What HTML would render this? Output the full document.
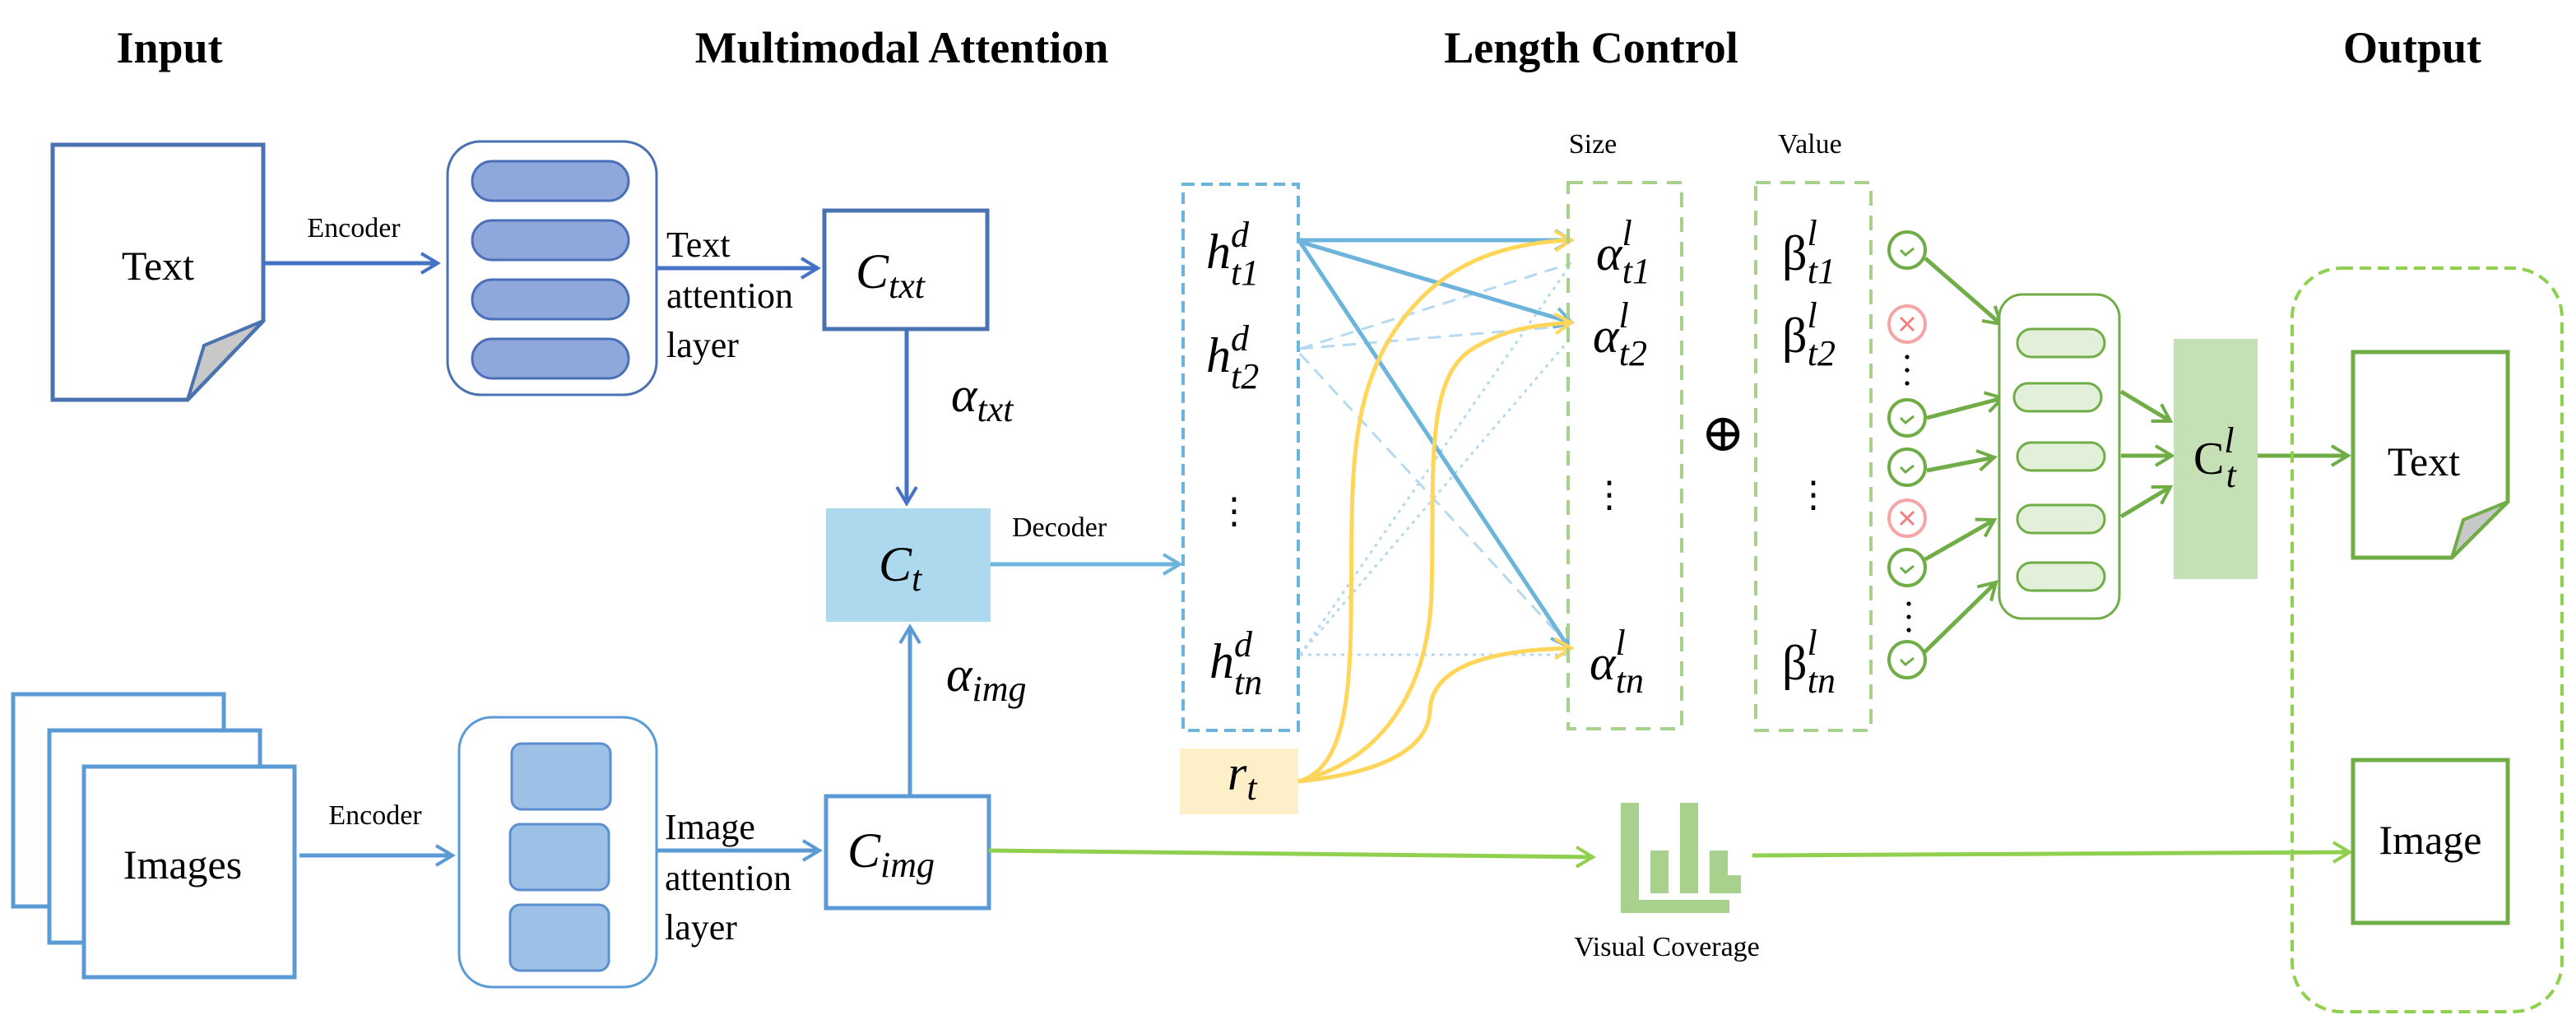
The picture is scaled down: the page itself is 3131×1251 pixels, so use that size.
<!DOCTYPE html>
<html><head><meta charset="utf-8"><style>
html,body{margin:0;padding:0;background:#fff;overflow:hidden}
svg{display:block}
svg text{font-family:"Liberation Serif","DejaVu Serif",serif;fill:#000}
.t{font-weight:bold;font-size:27px}
.m{font-style:italic;font-size:30px}
.sub{font-size:22px}
.s{font-size:17px}
.l{font-size:25px}
.a{font-size:22px}
</style></head><body>
<svg width="3131" height="1251" viewBox="0 0 1565.5 625.5" xmlns="http://www.w3.org/2000/svg" font-family="Liberation Serif, serif">
<defs>
<marker id="ab" markerWidth="14" markerHeight="14" refX="11" refY="7" orient="auto" markerUnits="userSpaceOnUse"><path d="M1,1 L11,7 L1,13" fill="none" stroke="#4472c4" stroke-width="2"/></marker>
<marker id="al" markerWidth="14" markerHeight="14" refX="11" refY="7" orient="auto" markerUnits="userSpaceOnUse"><path d="M1,1 L11,7 L1,13" fill="none" stroke="#5b9bd5" stroke-width="2"/></marker>
<marker id="ac" markerWidth="14" markerHeight="14" refX="11" refY="7" orient="auto" markerUnits="userSpaceOnUse"><path d="M1,1 L11,7 L1,13" fill="none" stroke="#6cb4dc" stroke-width="2"/></marker>
<marker id="ay" markerWidth="14" markerHeight="14" refX="11" refY="7" orient="auto" markerUnits="userSpaceOnUse"><path d="M1,1 L11,7 L1,13" fill="none" stroke="#ffd55a" stroke-width="2"/></marker>
<marker id="ag" markerWidth="14" markerHeight="14" refX="11" refY="7" orient="auto" markerUnits="userSpaceOnUse"><path d="M1,1 L11,7 L1,13" fill="none" stroke="#70ad47" stroke-width="2"/></marker>
<marker id="alg" markerWidth="14" markerHeight="14" refX="11" refY="7" orient="auto" markerUnits="userSpaceOnUse"><path d="M1,1 L11,7 L1,13" fill="none" stroke="#8fd14f" stroke-width="2"/></marker>
</defs>

<text class="t" x="103" y="38" text-anchor="middle">Input</text>
<text class="t" x="548" y="38" text-anchor="middle">Multimodal Attention</text>
<text class="t" x="967" y="38" text-anchor="middle">Length Control</text>
<text class="t" x="1466" y="38" text-anchor="middle">Output</text>

<path d="M32,88 H160 V195 L114,243 H32 Z" fill="#fff" stroke="#4a72b0" stroke-width="2.5"/>
<path d="M160,195 L124,210 L114,243 Z" fill="#c8c8c8" stroke="#4a72b0" stroke-width="2"/>
<text class="l" x="96" y="170" text-anchor="middle">Text</text>
<text class="s" x="215" y="144" text-anchor="middle">Encoder</text>
<line x1="160" y1="160" x2="266" y2="160" stroke="#4472c4" stroke-width="2.5" marker-end="url(#ab)"/>

<rect x="272" y="86" width="127" height="154" rx="20" fill="#fff" stroke="#4a72b0" stroke-width="1.5"/>
<g fill="#8fa8dc" stroke="#4a6fb8" stroke-width="1.5">
<rect x="287" y="98" width="95" height="24" rx="12"/>
<rect x="287" y="134" width="95" height="24" rx="12"/>
<rect x="287" y="170" width="95" height="24" rx="12"/>
<rect x="287" y="206" width="95" height="24" rx="12"/>
</g>
<text class="a" x="405" y="156">Text</text>
<text class="a" x="405" y="187">attention</text>
<text class="a" x="405" y="217">layer</text>
<line x1="399" y1="163" x2="497" y2="163" stroke="#4472c4" stroke-width="2.5" marker-end="url(#ab)"/>

<rect x="501" y="128" width="99" height="72" fill="#fff" stroke="#4a72b0" stroke-width="2.5"/>
<text class="m" x="520" y="175">C<tspan class="sub" dy="6">txt</tspan></text>
<line x1="551" y1="200" x2="551" y2="306" stroke="#4472c4" stroke-width="2.5" marker-end="url(#ab)"/>
<text class="m" x="578" y="250">α<tspan class="sub" dy="6">txt</tspan></text>

<rect x="502" y="309" width="100" height="69" fill="#acd9ee"/>
<text class="m" x="534" y="353">C<tspan class="sub" dy="6">t</tspan></text>
<text class="s" x="615" y="326" font-size="20">Decoder</text>
<line x1="602" y1="343" x2="717" y2="343" stroke="#6cb4dc" stroke-width="2.5" marker-end="url(#ac)"/>

<rect x="8" y="422" width="128" height="129" fill="#fff" stroke="#5b9bd5" stroke-width="2.5"/>
<rect x="30" y="444" width="128" height="129" fill="#fff" stroke="#5b9bd5" stroke-width="2.5"/>
<rect x="51" y="466" width="128" height="128" fill="#fff" stroke="#5b9bd5" stroke-width="2.5"/>
<text class="l" x="111" y="534" text-anchor="middle">Images</text>
<text class="s" x="228" y="501" text-anchor="middle">Encoder</text>
<line x1="182" y1="520" x2="275" y2="520" stroke="#5b9bd5" stroke-width="2.5" marker-end="url(#al)"/>

<rect x="279" y="436" width="120" height="164" rx="20" fill="#fff" stroke="#5b9bd5" stroke-width="1.5"/>
<g fill="#9dc0e6" stroke="#5b8fcf" stroke-width="1.5">
<rect x="311" y="452" width="60" height="40" rx="6"/>
<rect x="310" y="501" width="60" height="40" rx="6"/>
<rect x="310" y="550" width="60" height="40" rx="6"/>
</g>
<text class="a" x="404" y="510">Image</text>
<text class="a" x="404" y="541">attention</text>
<text class="a" x="404" y="571">layer</text>
<line x1="399" y1="517" x2="498" y2="517" stroke="#5b9bd5" stroke-width="2.5" marker-end="url(#al)"/>

<rect x="502" y="484" width="99" height="68" fill="#fff" stroke="#5b9bd5" stroke-width="2.5"/>
<text class="m" x="515" y="527">C<tspan class="sub" dy="6">img</tspan></text>
<line x1="553" y1="484" x2="553" y2="381" stroke="#5b9bd5" stroke-width="2.5" marker-end="url(#al)"/>
<text class="m" x="575" y="420">α<tspan class="sub" dy="6">img</tspan></text>

<line x1="601" y1="517" x2="968" y2="521" stroke="#8fd14f" stroke-width="2.5" marker-end="url(#alg)"/>
<g fill="#a9d18e">
<rect x="985" y="488" width="11" height="67"/>
<rect x="985" y="547" width="66" height="8"/>
<rect x="1003" y="517" width="11" height="26"/>
<rect x="1021" y="488" width="11" height="55"/>
<rect x="1039" y="517" width="11" height="26"/>
<rect x="1047" y="532" width="11" height="11"/>
</g>
<text class="s" x="1013" y="581" text-anchor="middle" font-size="19">Visual Coverage</text>
<line x1="1065" y1="520" x2="1428" y2="518" stroke="#8fd14f" stroke-width="2.5" marker-end="url(#alg)"/>

<rect x="719" y="112" width="70" height="332" fill="none" stroke="#6cb4dc" stroke-width="2" stroke-dasharray="7,4"/>
<text class="m" x="733" y="163">h<tspan class="sub" dy="-13">d</tspan><tspan class="sub" dx="-11" dy="23">t1</tspan></text>
<text class="m" x="733" y="226">h<tspan class="sub" dy="-13">d</tspan><tspan class="sub" dx="-11" dy="23">t2</tspan></text>
<text x="750" y="318" font-size="22" text-anchor="middle">⋮</text>
<text class="m" x="735" y="412">h<tspan class="sub" dy="-13">d</tspan><tspan class="sub" dx="-11" dy="23">tn</tspan></text>
<rect x="717" y="455" width="72" height="40" fill="#fdf0c8"/>
<text class="m" x="746" y="480">r<tspan class="sub" dy="6">t</tspan></text>

<g stroke="#b5d9ee" stroke-width="1.5" fill="none">
<line x1="790" y1="212" x2="955" y2="160" stroke-dasharray="8,5"/>
<line x1="790" y1="212" x2="955" y2="198" stroke-dasharray="8,5"/>
<line x1="790" y1="215" x2="953" y2="392" stroke-dasharray="8,5"/>
<line x1="790" y1="398" x2="955" y2="160" stroke-dasharray="2,3"/>
<line x1="790" y1="398" x2="955" y2="205" stroke-dasharray="2,3"/>
<line x1="790" y1="398" x2="953" y2="398" stroke-dasharray="2,3"/>
</g>
<g stroke="#6cb4dc" stroke-width="2.5" fill="none">
<line x1="790" y1="146" x2="955" y2="146" marker-end="url(#ac)"/>
<line x1="790" y1="147" x2="955" y2="196" marker-end="url(#ac)"/>
<line x1="790" y1="147" x2="953" y2="393" marker-end="url(#ac)"/>
</g>
<g stroke="#ffd55a" stroke-width="2.5" fill="none">
<path d="M789,475 C815,468 820,430 821,380 C822,300 818,250 845,205 C870,165 905,148 955,146" marker-end="url(#ay)"/>
<path d="M789,475 C840,462 868,420 870,360 C872,290 865,230 895,212 C915,200 930,198 955,196" marker-end="url(#ay)"/>
<path d="M789,475 C840,470 868,455 869,432 C870,405 905,395 955,394" marker-end="url(#ay)"/>
</g>

<text class="s" x="968" y="93" text-anchor="middle" font-size="20">Size</text>
<rect x="953" y="111" width="69" height="332" fill="none" stroke="#a9d18e" stroke-width="2" stroke-dasharray="9,6"/>
<text class="m" x="970" y="164">α<tspan class="sub" dy="-15">l</tspan><tspan class="sub" dx="-6" dy="23">t1</tspan></text>
<text class="m" x="968" y="214">α<tspan class="sub" dy="-15">l</tspan><tspan class="sub" dx="-6" dy="23">t2</tspan></text>
<text x="978" y="308" font-size="22" text-anchor="middle">⋮</text>
<text class="m" x="966" y="413">α<tspan class="sub" dy="-15">l</tspan><tspan class="sub" dx="-6" dy="23">tn</tspan></text>
<text x="1047" y="274" font-size="32" text-anchor="middle">⊕</text>
<text class="s" x="1100" y="93" text-anchor="middle" font-size="20">Value</text>
<rect x="1067" y="111" width="70" height="333" fill="none" stroke="#a9d18e" stroke-width="2" stroke-dasharray="9,6"/>
<text x="1083" y="164" font-size="30">β<tspan class="sub" font-style="italic" dy="-15">l</tspan><tspan class="sub" font-style="italic" dx="-6" dy="23">t1</tspan></text>
<text x="1083" y="214" font-size="30">β<tspan class="sub" font-style="italic" dy="-15">l</tspan><tspan class="sub" font-style="italic" dx="-6" dy="23">t2</tspan></text>
<text x="1102" y="308" font-size="22" text-anchor="middle">⋮</text>
<text x="1083" y="413" font-size="30">β<tspan class="sub" font-style="italic" dy="-15">l</tspan><tspan class="sub" font-style="italic" dx="-6" dy="23">tn</tspan></text>

<g fill="#fff" stroke-width="2">
<g stroke="#70ad47">
<circle cx="1159" cy="152" r="11"/><circle cx="1159" cy="254" r="11"/><circle cx="1159" cy="284" r="11"/><circle cx="1159" cy="345" r="11"/><circle cx="1159" cy="401" r="11"/>
</g>
<g stroke="#f4a6a6"><circle cx="1159" cy="197" r="11"/><circle cx="1159" cy="315" r="11"/></g>
</g>
<g stroke="#70ad47" stroke-width="1.5" fill="none">
<path d="M1155,152 l3,3 l5,-4"/><path d="M1155,254 l3,3 l5,-4"/><path d="M1155,284 l3,3 l5,-4"/><path d="M1155,345 l3,3 l5,-4"/><path d="M1155,401 l3,3 l5,-4"/>
</g>
<g stroke="#f08080" stroke-width="1.5"><path d="M1155,193 l8,8 M1163,193 l-8,8"/><path d="M1155,311 l8,8 M1163,311 l-8,8"/></g>
<g fill="#000"><circle cx="1159" cy="217" r="1.3"/><circle cx="1159" cy="225" r="1.3"/><circle cx="1159" cy="233" r="1.3"/>
<circle cx="1160" cy="367" r="1.3"/><circle cx="1160" cy="375" r="1.3"/><circle cx="1160" cy="383" r="1.3"/></g>
<g stroke="#70ad47" stroke-width="2.5" fill="none">
<line x1="1170" y1="157" x2="1216" y2="197" marker-end="url(#ag)"/>
<line x1="1171" y1="254" x2="1217" y2="242" marker-end="url(#ag)"/>
<line x1="1171" y1="286" x2="1212" y2="278" marker-end="url(#ag)"/>
<line x1="1170" y1="340" x2="1212" y2="316" marker-end="url(#ag)"/>
<line x1="1169" y1="397" x2="1213" y2="354" marker-end="url(#ag)"/>
</g>
<rect x="1215" y="179" width="73" height="197" rx="14" fill="#fff" stroke="#70ad47" stroke-width="1.5"/>
<g fill="#e2f0d9" stroke="#70ad47" stroke-width="1.5">
<rect x="1226" y="200" width="53" height="17" rx="8.5"/>
<rect x="1224" y="233" width="53" height="17" rx="8.5"/>
<rect x="1226" y="269" width="53" height="17" rx="8.5"/>
<rect x="1226" y="307" width="53" height="17" rx="8.5"/>
<rect x="1226" y="342" width="53" height="17" rx="8.5"/>
</g>
<g stroke="#70ad47" stroke-width="2.5" fill="none">
<line x1="1289" y1="238" x2="1319" y2="256" marker-end="url(#ag)"/>
<line x1="1289" y1="277" x2="1320" y2="277" marker-end="url(#ag)"/>
<line x1="1289" y1="314" x2="1319" y2="296" marker-end="url(#ag)"/>
</g>
<rect x="1321" y="206" width="51" height="146" fill="#c5e0b4"/>
<text x="1333" y="288" font-size="28">C<tspan class="sub" font-style="italic" dy="-13">l</tspan><tspan class="sub" font-style="italic" dx="-5" dy="21">t</tspan></text>
<line x1="1372" y1="277" x2="1427" y2="277" stroke="#70ad47" stroke-width="2.5" marker-end="url(#ag)"/>

<rect x="1393" y="163" width="164" height="452" rx="30" fill="none" stroke="#8fd14f" stroke-width="2" stroke-dasharray="7,4"/>
<path d="M1430,214 H1524 V305 L1490,339 H1430 Z" fill="#fff" stroke="#70ad47" stroke-width="2.5"/>
<path d="M1524,305 L1497,316 L1490,339 Z" fill="#c8c8c8" stroke="#70ad47" stroke-width="2"/>
<text class="l" x="1473" y="289" text-anchor="middle">Text</text>
<rect x="1430" y="462" width="94" height="99" fill="#fff" stroke="#70ad47" stroke-width="2.5"/>
<text class="l" x="1477" y="519" text-anchor="middle">Image</text>
</svg>
</body></html>
